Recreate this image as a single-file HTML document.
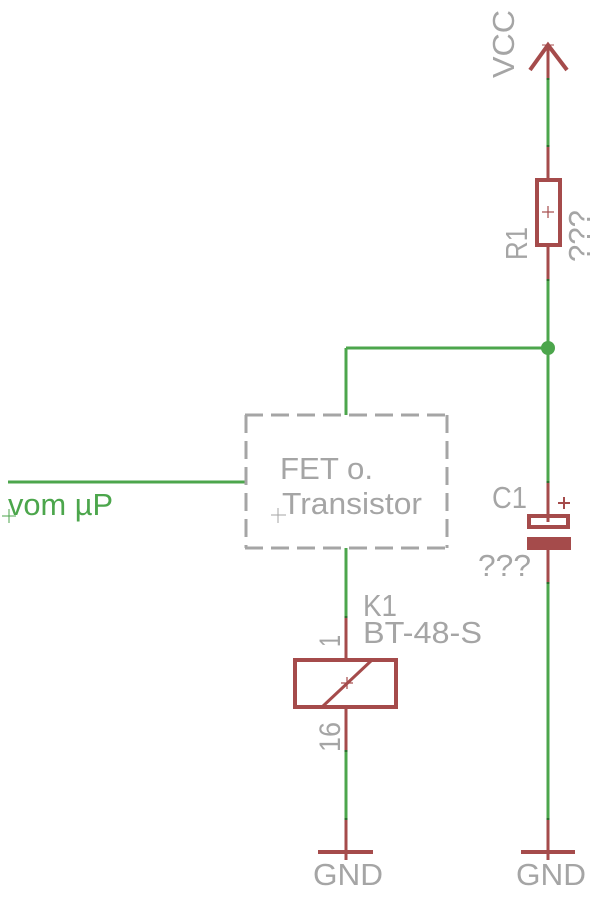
<!DOCTYPE html>
<html><head><meta charset="utf-8"><style>
html,body{margin:0;padding:0;background:#fff;}
svg{display:block;}
text{font-family:"Liberation Sans",Arial,sans-serif;}
</style></head><body>
<svg width="605" height="899" viewBox="0 0 605 899" xmlns="http://www.w3.org/2000/svg">
<g fill="none" stroke-linecap="butt">
<!-- green wires -->
<g stroke="#4ca64c" stroke-width="3">
<line x1="548" y1="79" x2="548" y2="146"/>
<line x1="548" y1="280" x2="548" y2="482"/>
<line x1="548" y1="583" x2="548" y2="819"/>
<line x1="346" y1="348" x2="548" y2="348"/>
<line x1="346" y1="348" x2="346" y2="415"/>
<line x1="346" y1="548" x2="346" y2="617"/>
<line x1="346" y1="751" x2="346" y2="819"/>
<line x1="8" y1="482" x2="245" y2="482"/>
</g>
<!-- red pins -->
<g stroke="#a54b4b" stroke-width="3">
<line x1="548" y1="45" x2="548" y2="79"/>
<line x1="548" y1="146" x2="548" y2="178"/>
<line x1="548" y1="247" x2="548" y2="280"/>
<line x1="548" y1="482" x2="548" y2="522"/>
<line x1="548" y1="550" x2="548" y2="583"/>
<line x1="548" y1="819" x2="548" y2="860"/>
<line x1="346" y1="617" x2="346" y2="659"/>
<line x1="346" y1="708" x2="346" y2="751"/>
<line x1="346" y1="819" x2="346" y2="860"/>
</g>
<!-- pin ends -->
<g stroke="#2c6e2c" stroke-width="3">
<line x1="548" y1="78" x2="548" y2="80"/>
<line x1="548" y1="145" x2="548" y2="147"/>
<line x1="548" y1="279" x2="548" y2="281"/>
<line x1="548" y1="481" x2="548" y2="483"/>
<line x1="548" y1="582" x2="548" y2="584"/>
<line x1="548" y1="818" x2="548" y2="820"/>
<line x1="346" y1="616" x2="346" y2="618"/>
<line x1="346" y1="750" x2="346" y2="752"/>
<line x1="346" y1="818" x2="346" y2="820"/>
</g>
<!-- VCC arrow -->
<polyline points="530,70 548,45 567,70" stroke="#a54b4b" stroke-width="4" stroke-linejoin="miter"/>
<g stroke="#a54b4b" stroke-width="1">
<line x1="542" y1="45" x2="554" y2="45"/>
</g>
<!-- R1 -->
<rect x="537" y="180" width="23" height="65" stroke="#a54b4b" stroke-width="4"/>
<g stroke="#a54b4b" stroke-width="1.2">
<line x1="542" y1="212" x2="554" y2="212"/>
<line x1="548" y1="206" x2="548" y2="218"/>
</g>
<!-- junction -->
<circle cx="548" cy="348" r="7" fill="#4ca64c" stroke="none"/>
<!-- C1 -->
<rect x="529" y="516" width="39" height="11" stroke="#a54b4b" stroke-width="4"/>
<rect x="527" y="537" width="44" height="13" fill="#a54b4b" stroke="none"/>
<g stroke="#a54b4b" stroke-width="2">
<line x1="558" y1="503" x2="570" y2="503"/>
<line x1="564" y1="497" x2="564" y2="509"/>
</g>
<!-- FET box -->
<g stroke="#a5a5a5" stroke-width="3" stroke-dasharray="18 8">
<line x1="245" y1="415" x2="448" y2="415"/>
<line x1="245" y1="548" x2="448" y2="548"/>
<line x1="246" y1="415" x2="246" y2="548"/>
<line x1="447" y1="415" x2="447" y2="548"/>
</g>
<g stroke="#a5a5a5" stroke-width="1">
<line x1="271" y1="515" x2="286" y2="515"/>
<line x1="278" y1="508" x2="278" y2="523"/>
</g>
<!-- relay -->
<rect x="295" y="660" width="101" height="47" stroke="#a54b4b" stroke-width="4"/>
<line x1="322" y1="707" x2="372" y2="660" stroke="#a54b4b" stroke-width="3"/>
<g stroke="#a54b4b" stroke-width="1.2">
<line x1="341" y1="683" x2="353" y2="683"/>
<line x1="347" y1="677" x2="347" y2="689"/>
</g>
<!-- GND bars -->
<g stroke="#a54b4b" stroke-width="4">
<line x1="318" y1="852" x2="373" y2="852"/>
<line x1="521" y1="852" x2="575" y2="852"/>
</g>
<!-- green plus vom -->
<g stroke="#4ca64c" stroke-width="1">
<line x1="2" y1="516" x2="16" y2="516"/>
<line x1="9" y1="509" x2="9" y2="523"/>
</g>
</g>
<!-- texts -->
<g fill="#a5a5a5" font-size="31">
<text transform="translate(514,78) rotate(-90)" textLength="68" lengthAdjust="spacingAndGlyphs">VCC</text>
<text transform="translate(527,260) rotate(-90)" textLength="33" lengthAdjust="spacingAndGlyphs">R1</text>
<text transform="translate(590,262) rotate(-90)" textLength="52" lengthAdjust="spacingAndGlyphs">???</text>
<text x="492" y="508" textLength="35" lengthAdjust="spacingAndGlyphs">C1</text>
<text x="478" y="576" textLength="53" lengthAdjust="spacingAndGlyphs">???</text>
<text x="280" y="479" textLength="93" lengthAdjust="spacingAndGlyphs">FET o.</text>
<text x="282" y="514" textLength="140" lengthAdjust="spacingAndGlyphs">Transistor</text>
<text x="363" y="616" textLength="34" lengthAdjust="spacingAndGlyphs">K1</text>
<text x="363" y="643" textLength="119" lengthAdjust="spacingAndGlyphs">BT-48-S</text>
<text transform="translate(340,647) rotate(-90)" font-size="30" textLength="12" lengthAdjust="spacingAndGlyphs">1</text>
<text transform="translate(340,752) rotate(-90)" font-size="30" textLength="30" lengthAdjust="spacingAndGlyphs">16</text>
<text x="313" y="885" textLength="70" lengthAdjust="spacingAndGlyphs">GND</text>
<text x="516" y="885" textLength="70" lengthAdjust="spacingAndGlyphs">GND</text>
</g>
<text x="8" y="515" fill="#4ca64c" font-size="31" textLength="105" lengthAdjust="spacingAndGlyphs">vom µP</text>
</svg>
</body></html>
